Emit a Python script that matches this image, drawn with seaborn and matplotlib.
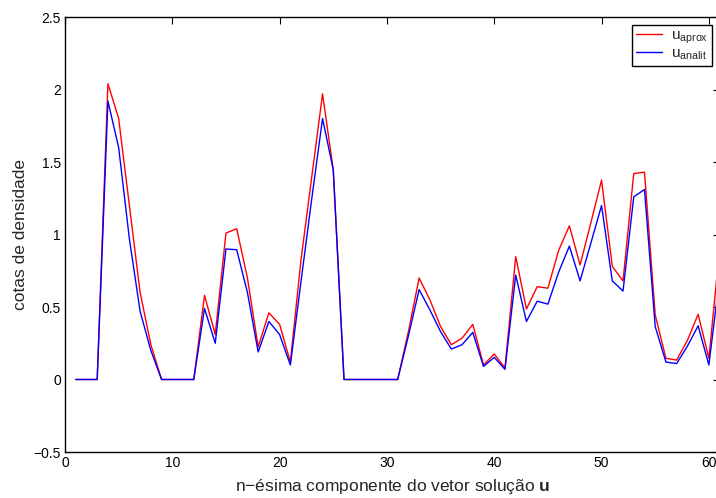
import matplotlib
matplotlib.use("Agg")
import matplotlib.pyplot as plt
import seaborn as sns
import pandas as pd
import numpy as np

n = list(range(1, 62))
u_aprox = [0, 0, 0, 2.04, 1.80, 1.20, 0.60, 0.24, 0, 0,
           0, 0, 0.58, 0.31, 1.01, 1.04, 0.70, 0.225, 0.46, 0.38,
           0.12, 0.83, 1.40, 1.97, 1.445, 0, 0, 0, 0, 0,
           0, 0.33, 0.70, 0.55, 0.365, 0.24, 0.285, 0.38, 0.10, 0.176,
           0.08, 0.847, 0.486, 0.64, 0.63, 0.89, 1.06, 0.79, 1.08, 1.375,
           0.78, 0.68, 1.42, 1.43, 0.445, 0.146, 0.134, 0.27, 0.45, 0.146,
           0.90]
u_analit = [0, 0, 0, 1.92, 1.60, 0.97, 0.47, 0.20, 0, 0,
            0, 0, 0.49, 0.25, 0.90, 0.895, 0.60, 0.19, 0.40, 0.31,
            0.10, 0.68, 1.25, 1.80, 1.445, 0, 0, 0, 0, 0,
            0, 0.30, 0.62, 0.48, 0.33, 0.21, 0.24, 0.325, 0.09, 0.153,
            0.07, 0.72, 0.40, 0.54, 0.52, 0.74, 0.92, 0.68, 0.94, 1.20,
            0.68, 0.61, 1.26, 1.31, 0.365, 0.12, 0.11, 0.23, 0.37, 0.10,
            0.70]

sns.set_style("white")
plt.rcParams['font.family'] = ['Liberation Sans', 'DejaVu Sans']
plt.rcParams['mathtext.fontset'] = 'custom'
plt.rcParams['mathtext.rm'] = 'Liberation Sans'
plt.rcParams['mathtext.it'] = 'Liberation Sans'
plt.rcParams['mathtext.bf'] = 'Liberation Sans:bold'

fig = plt.figure(figsize=(7.16, 4.98), dpi=100)
W, H = 716, 498
left, right, top, bottom = 65, 719.6, 17, 452
ax = fig.add_axes([left / W, (H - bottom) / H, (right - left) / W, (bottom - top) / H])

df = pd.DataFrame({"n": n, "aprox": u_aprox, "analit": u_analit})
sns.lineplot(data=df, x="n", y="aprox", ax=ax, color=(1, 0, 0), linewidth=1.0,
             label=r"u$_{\mathrm{aprox}}$")
sns.lineplot(data=df, x="n", y="analit", ax=ax, color=(0, 0, 1), linewidth=1.0,
             label=r"u$_{\mathrm{analit}}$")

ax.set_xlim(0, 61)
ax.set_ylim(-0.5, 2.5)
ax.set_xticks([0, 10, 20, 30, 40, 50, 60])
ax.set_yticks([-0.5, 0, 0.5, 1, 1.5, 2, 2.5])
ax.set_yticklabels(["\u22120.5", "0", "0.5", "1", "1.5", "2", "2.5"])
ax.tick_params(direction='in', top=True, right=True, length=5, width=0.8,
               labelsize=10, colors='black', pad=3)
for s in ax.spines.values():
    s.set_visible(True)
    s.set_color('black')
    s.set_linewidth(1.0)

ax.set_xlabel("n\u2212ésima componente do vetor solução $\\mathbf{u}$", fontsize=12.5, labelpad=5)
ax.set_ylabel("cotas de densidade", fontsize=12.5, labelpad=4)

leg = ax.legend(loc='upper right', fontsize=11, frameon=True, fancybox=False,
                edgecolor='black', framealpha=1, handlelength=1.7, borderpad=0.25,
                labelspacing=0.05, handletextpad=0.6, borderaxespad=0.5)
leg.get_frame().set_linewidth(1.0)

fig.savefig("out.png", dpi=100)
